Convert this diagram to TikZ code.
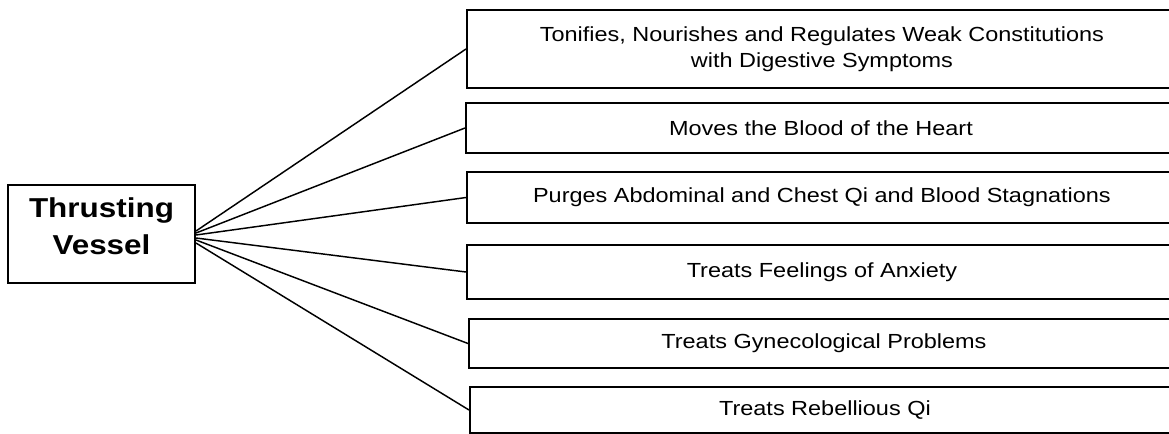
\documentclass[tikz,border=0pt]{standalone}
\usepackage{fontspec}
\setmainfont{Liberation Sans}[FakeStretch=1.15]
\usetikzlibrary{positioning}

\begin{document}
\begin{tikzpicture}[x=0.75pt,y=-0.75pt,
  hub/.style={draw, line width=1.5pt, minimum width=140.25pt, minimum height=73.5pt,
    align=center, text depth=11.25pt, font=\fontsize{20.5}{27.75}\selectfont\bfseries},
  effect/.style={draw, line width=1.4pt, anchor=west, minimum width=532.5pt,
    align=center, font=\fontsize{15.3}{19.5}\selectfont},
  link/.style={line width=1.1pt}]
\useasboundingbox (0,0) rectangle (1169,433);
\clip (0,0) rectangle (1169,433);

% the vessel on the left
\node[hub] (tv) at (101.5,234) {Thrusting\\Vessel};

% its actions, stacked on the right
\node[effect, minimum height=58.5pt] (e1) at (466,49)
  {Tonifies, Nourishes and Regulates Weak Constitutions\\with Digestive Symptoms};
\node[effect, minimum height=37.5pt] (e2) at (465,128) {Moves the Blood of the Heart};
\node[effect, minimum height=38.25pt] (e3) at (466,197.5)
  {Purges Abdominal and Chest Qi and Blood Stagnations};
\node[effect, minimum height=40.5pt] (e4) at (466,272) {Treats Feelings of Anxiety};
\node[effect, minimum height=36.75pt] (e5) at (468,343.5) {Treats Gynecological Problems};
\node[effect, minimum height=34.5pt] (e6) at (469,410) {Treats Rebellious Qi};

% fan of lines
\foreach \i/\s in {1/2.25,2/0.75,3/-0.75,4/-3,5/-4.5,6/-6.75}
  \draw[link] ([yshift=\s pt]tv.east) -- (e\i.west);
\end{tikzpicture}
\end{document}
